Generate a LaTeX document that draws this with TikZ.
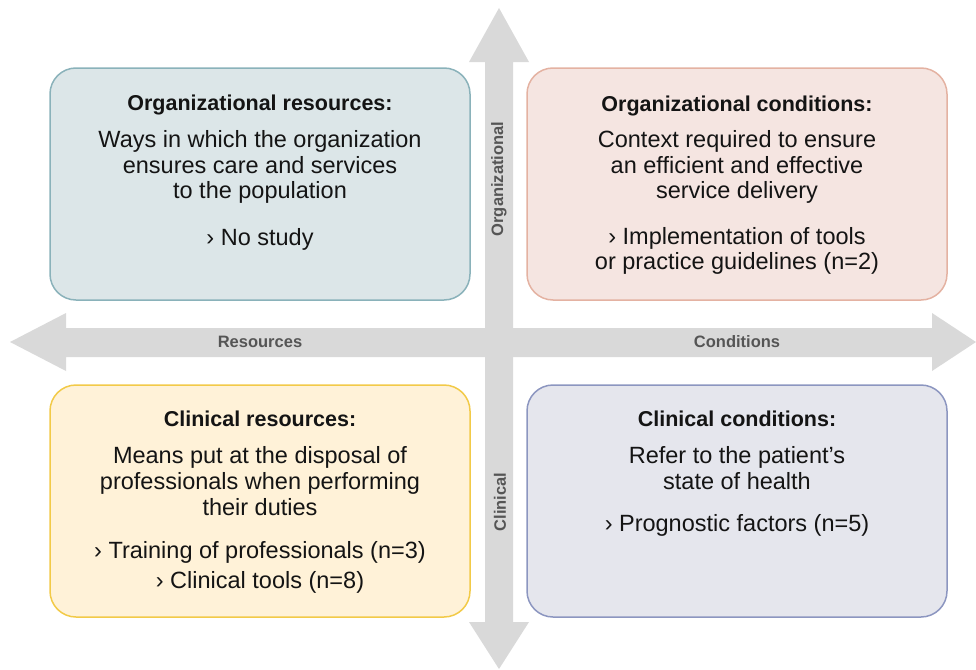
\documentclass[tikz,border=0pt]{standalone}
\usepackage{fontspec}
\setmainfont{Liberation Sans}
\definecolor{arrowgray}{RGB}{217,217,217}
\definecolor{axislabel}{RGB}{85,85,85}
\definecolor{txt}{RGB}{20,20,20}
\definecolor{tlfill}{RGB}{220,230,232}
\definecolor{tldraw}{RGB}{138,178,186}
\definecolor{trfill}{RGB}{245,229,225}
\definecolor{trdraw}{RGB}{228,178,162}
\definecolor{blfill}{RGB}{255,242,216}
\definecolor{bldraw}{RGB}{242,202,72}
\definecolor{brfill}{RGB}{229,230,237}
\definecolor{brdraw}{RGB}{140,150,192}
\tikzset{
  quad/.style={rounded corners=26pt, line width=1.5pt, minimum width=420pt, minimum height=232pt, inner sep=0pt},
  title/.style={font=\bfseries\fontsize{21.5}{24}\selectfont, text=txt, inner sep=0pt, align=center},
  body/.style={font=\fontsize{23.5}{25.8}\selectfont, text=txt, inner sep=0pt, align=center},
  axislbl/.style={font=\bfseries\fontsize{16.5}{18}\selectfont, text=axislabel, inner sep=0pt},
}
\begin{document}
\begin{tikzpicture}[x=1pt,y=-1pt]
\useasboundingbox (0,0) rectangle (976,669);
% axes
\fill[arrowgray] (499,8) -- (529,62) -- (513,62) -- (513,622) -- (529,622) -- (499,669)
  -- (469,622) -- (485,622) -- (485,62) -- (469,62) -- cycle;
\fill[arrowgray] (10,342) -- (66,313) -- (66,328) -- (932,328) -- (932,313) -- (976,342)
  -- (932,371) -- (932,357) -- (66,357) -- (66,371) -- cycle;
\node[axislbl] (res) at (260,342) {Resources};
\node[axislbl] (cond) at (737,342) {Conditions};
\node[axislbl, rotate=90] (org) at (499,179) {Organizational};
\node[axislbl, rotate=90] (clin) at (500,502) {Clinical};
% boxes
\node[quad, fill=tlfill, draw=tldraw] (tl) at (260,184) {};
\node[quad, fill=trfill, draw=trdraw] (tr) at (737,184) {};
\node[quad, fill=blfill, draw=bldraw] (bl) at (260,501) {};
\node[quad, fill=brfill, draw=brdraw] (br) at (737,501) {};
% top-left
\node[title] (tlt) at (260,105) {Organizational resources:};
\node[body] (tld) at (260,167) {Ways in which the organization\\ensures care and services\\to the population};
\node[body] (tlb) at (260,239) {› No study};
% top-right
\node[title] (trt) at (737,106) {Organizational conditions:};
\node[body] (trd) at (737,167) {Context required to ensure\\an efficient and effective\\service delivery};
\node[body] (trb) at (737,251) {› Implementation of tools\\or practice guidelines (n=2)};
% bottom-left
\node[title] (blt) at (260,419) {Clinical resources:};
\node[body] (bld) at (260,481) {Means put at the disposal of\\professionals when performing\\their duties};
\node[body] (blb1) at (260,552) {› Training of professionals (n=3)};
\node[body] (blb2) at (260,582) {› Clinical tools (n=8)};
% bottom-right
\node[title] (brt) at (737,419) {Clinical conditions:};
\node[body] (brd) at (737,468) {Refer to the patient’s\\state of health};
\node[body] (brb) at (737,525) {› Prognostic factors (n=5)};
\end{tikzpicture}
\end{document}
